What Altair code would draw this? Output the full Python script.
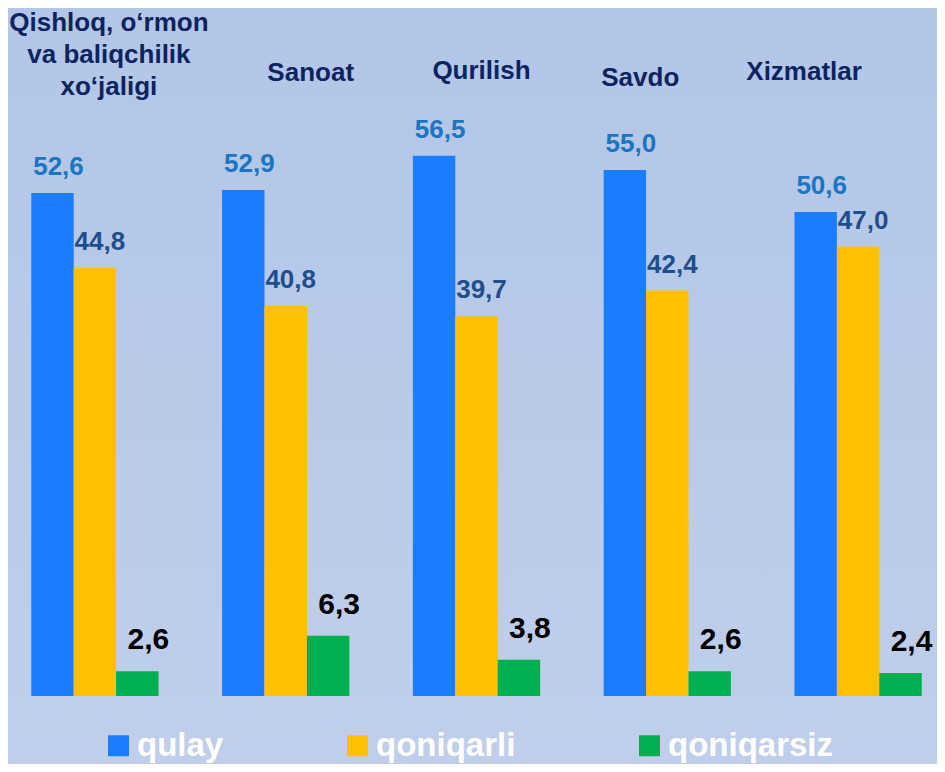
import altair as alt
import pandas as pd

# ---- data ----
categories = ["Qishloq, o‘rmon va baliqchilik xo‘jaligi", "Sanoat", "Qurilish", "Savdo", "Xizmatlar"]
title_lines = [["Qishloq, o‘rmon", "va baliqchilik", "xo‘jaligi"], ["Sanoat"], ["Qurilish"], ["Savdo"], ["Xizmatlar"]]
series = ["qulay", "qoniqarli", "qoniqarsiz"]
qulay = [52.6, 52.9, 56.5, 55.0, 50.6]
qoniqarli = [44.8, 40.8, 39.7, 42.4, 47.0]
qoniqarsiz = [2.6, 6.3, 3.8, 2.6, 2.4]

# ---- style ----
bar_colors = ["#1A7CFF", "#FFC000", "#00B050"]
label_colors = ["#1B75C2", "#1F4E8C", "#000000"]
label_sizes = [26, 26, 30]
label_dx = [6, 5, 11]
label_dy = [-18, -18, -22]
title_color = "#0C2461"
FONT = "Liberation Sans"

# title layout (dx from group centre, baseline y of first line)
title_dx = [14, 25, 5, -27, -54]
title_y = [23, 73, 71, 78, 72]

W, H = 929, 688
TOTAL_H = 756

rows = []
for i, c in enumerate(categories):
    for s, vals in zip(series, [qulay, qoniqarli, qoniqarsiz]):
        rows.append({"cat": c, "series": s, "value": vals[i]})
df = pd.DataFrame(rows)

# band scale: keep group width/spacing of the reference inside a 929px plot
xenc = alt.X("cat:N", sort=categories, axis=None,
             scale=alt.Scale(paddingInner=0.333, paddingOuter=0.122,
                             range=[0, 937]))
xoff = alt.XOffset("series:N", sort=series,
                   scale=alt.Scale(paddingInner=0, paddingOuter=0))
yenc = alt.Y("value:Q", axis=None,
             scale=alt.Scale(domain=[0, 71.94], nice=False, zero=True))

bg = alt.Chart(pd.DataFrame({"a": [0]})).mark_rect(
    color=alt.LinearGradient(
        gradient="linear",
        stops=[alt.GradientStop(color="#B3C6E7", offset=0),
               alt.GradientStop(color="#BECEEA", offset=1)],
        x1=0, x2=0, y1=0, y2=1)
).encode(x=alt.value(0), x2=alt.value(W), y=alt.value(0), y2=alt.value(H))

base = alt.Chart(df)

bars = base.mark_bar().encode(
    x=xenc, xOffset=xoff, y=yenc,
    color=alt.Color("series:N", sort=series,
                    scale=alt.Scale(domain=series, range=bar_colors),
                    legend=alt.Legend(orient="none", legendX=94, legendY=721,
                                      direction="horizontal", title=None,
                                      symbolType="square", symbolSize=441,
                                      symbolStrokeWidth=0, symbolOpacity=1,
                                      labelFontSize=33, labelFont=FONT,
                                      labelFontWeight="bold", labelColor="white",
                                      columnPadding=117, labelOffset=2,
                                      padding=0, labelLimit=400)),
)

labels = []
for i, s in enumerate(series):
    labels.append(
        base.transform_filter(alt.datum.series == s)
        .transform_calculate(label="replace(format(datum.value, '.1f'), '.', ',')")
        .mark_text(font=FONT, fontWeight="bold", fontSize=label_sizes[i],
                   color=label_colors[i], dx=label_dx[i], dy=label_dy[i],
                   baseline="alphabetic", align="center")
        .encode(x=xenc, xOffset=xoff, y=yenc, text="label:N")
    )

titles = []
for i, c in enumerate(categories):
    titles.append(
        alt.Chart(pd.DataFrame({"cat": [c]}))
        .mark_text(text=title_lines[i], font=FONT, fontWeight="bold", fontSize=26,
                   lineHeight=32, color=title_color, dx=title_dx[i],
                   baseline="alphabetic", align="center")
        .encode(x=xenc, y=alt.value(title_y[i]))
    )

chart = alt.layer(bg, bars, *labels, *titles).properties(
    width=W, height=H,
    padding={"left": 0, "top": 0, "right": 0, "bottom": TOTAL_H - H},
    autosize=alt.AutoSizeParams(type="none"),
    background="#BFCEEA",
).configure_view(stroke=None)

chart.save("out.html", embed_options={"renderer": "svg", "actions": False})
